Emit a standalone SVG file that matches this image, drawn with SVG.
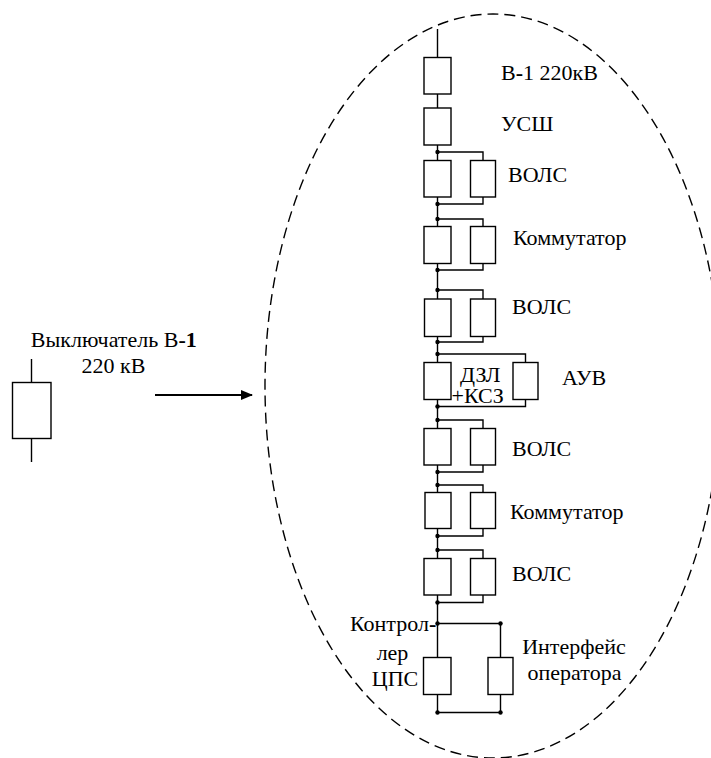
<svg xmlns="http://www.w3.org/2000/svg" width="711" height="758" viewBox="0 0 711 758">
<defs>
<style>
.w{fill:none;stroke:#000;stroke-width:1.4}
.b{fill:#fff;stroke:#000;stroke-width:1.4}
.d{fill:#000}
text{font-family:'Liberation Serif','Times New Roman',Tinos,'DejaVu Serif',serif;font-size:22px;fill:#000}
.m{text-anchor:middle}
</style>
<marker id="ah" markerWidth="12" markerHeight="10" refX="11" refY="5" orient="auto" markerUnits="userSpaceOnUse">
<path d="M0,0 L12,5 L0,10 Z" fill="#000"/>
</marker>
</defs>
<rect width="711" height="758" fill="#fff"/>
<ellipse id="zone" cx="493" cy="386" rx="228" ry="372" fill="none" stroke="#000" stroke-width="1.4" stroke-dasharray="11 6"/>
<g id="connectors">
<line class="w" x1="437.5" y1="29" x2="437.5" y2="712.5"/>
<path class="w" d="M437.5 152H483V160.5M483 197V204H437.5"/>
<path class="w" d="M437.5 219H483V226.5M483 263.5V270H437.5"/>
<path class="w" d="M437.5 290H483V299M483 336.5V342H437.5"/>
<path class="w" d="M437.5 354H525.5V362.5M525.5 399.5V406.5H437.5"/>
<path class="w" d="M437.5 420H483V428.5M483 465V472H437.5"/>
<path class="w" d="M437.5 485H483V492.5M483 528.5V536H437.5"/>
<path class="w" d="M437.5 550H483V558.5M483 595V602.5H437.5"/>
<path class="w" d="M437.5 623.5H500.5V712.5H437.5"/>
<line class="w" x1="31.5" y1="359" x2="31.5" y2="462"/>
<line x1="155" y1="395" x2="252" y2="395" stroke="#000" stroke-width="2" marker-end="url(#ah)"/>
<g class="d">
<circle cx="437.5" cy="152" r="2.2"/><circle cx="437.5" cy="204" r="2.2"/>
<circle cx="437.5" cy="219" r="2.2"/><circle cx="437.5" cy="270" r="2.2"/>
<circle cx="437.5" cy="290" r="2.2"/><circle cx="437.5" cy="342" r="2.2"/>
<circle cx="437.5" cy="354" r="2.2"/><circle cx="437.5" cy="406.5" r="2.2"/>
<circle cx="437.5" cy="420" r="2.2"/><circle cx="437.5" cy="472" r="2.2"/>
<circle cx="437.5" cy="485" r="2.2"/><circle cx="437.5" cy="536" r="2.2"/>
<circle cx="437.5" cy="550" r="2.2"/><circle cx="437.5" cy="602.5" r="2.2"/>
<circle cx="437.5" cy="623.5" r="2.2"/><circle cx="500.5" cy="623.5" r="2.2"/>
<circle cx="437.5" cy="712.5" r="2.2"/><circle cx="500.5" cy="712.5" r="2.2"/>
</g>
</g>
<g id="breaker-left">
<rect class="b" x="12.5" y="382.5" width="38.5" height="56"/>
<text class="m" x="113.8" y="346.7">Выключатель В<tspan font-weight="bold">-1</tspan></text>
<text class="m" x="113.5" y="372.7">220 кВ</text>
</g>
<g id="v1">
<rect class="b" x="424" y="57.5" width="27" height="36.5"/>
<text x="501" y="80">В<tspan font-weight="bold">-</tspan>1 220кВ</text>
</g>
<g id="ussh">
<rect class="b" x="424" y="108" width="27" height="37"/>
<text x="501" y="131">УСШ</text>
</g>
<g id="vols1">
<rect class="b" x="424" y="160.5" width="27" height="36.5"/>
<rect class="b" x="470.5" y="160.5" width="25" height="36.5"/>
<text x="508" y="182">ВОЛС</text>
</g>
<g id="switch1">
<rect class="b" x="424" y="226.5" width="27" height="37"/>
<rect class="b" x="470.5" y="226.5" width="25" height="37"/>
<text x="513" y="244.5">Коммутатор</text>
</g>
<g id="vols2">
<rect class="b" x="424.5" y="299" width="26.5" height="37.5"/>
<rect class="b" x="470.5" y="299" width="25" height="37.5"/>
<text x="512" y="313.5">ВОЛС</text>
</g>
<g id="dzl-auv">
<rect class="b" x="424" y="362.5" width="27" height="37"/>
<rect class="b" x="513" y="362.5" width="25" height="37"/>
<text x="460" y="381.5">ДЗЛ</text>
<text x="451.5" y="403">+КСЗ</text>
<text x="562" y="385">АУВ</text>
</g>
<g id="vols3">
<rect class="b" x="424" y="428.5" width="27" height="36.5"/>
<rect class="b" x="470.5" y="428.5" width="25" height="36.5"/>
<text x="512" y="456">ВОЛС</text>
</g>
<g id="switch2">
<rect class="b" x="425" y="492.5" width="26" height="36"/>
<rect class="b" x="470.5" y="492.5" width="25" height="36"/>
<text x="510" y="518.5">Коммутатор</text>
</g>
<g id="vols4">
<rect class="b" x="424" y="558.5" width="27" height="36.5"/>
<rect class="b" x="470.5" y="558.5" width="25" height="36.5"/>
<text x="512" y="581">ВОЛС</text>
</g>
<g id="controller">
<rect class="b" x="423.5" y="657.5" width="27.5" height="37"/>
<text x="350" y="631">Контрол<tspan font-weight="bold">-</tspan></text>
<text class="m" x="392.5" y="660">лер</text>
<text class="m" x="395" y="686">ЦПС</text>
</g>
<g id="operator">
<rect class="b" x="488" y="657.5" width="25" height="37"/>
<text class="m" x="574" y="654">Интерфейс</text>
<text class="m" x="574.5" y="679.5">оператора</text>
</g>
</svg>
